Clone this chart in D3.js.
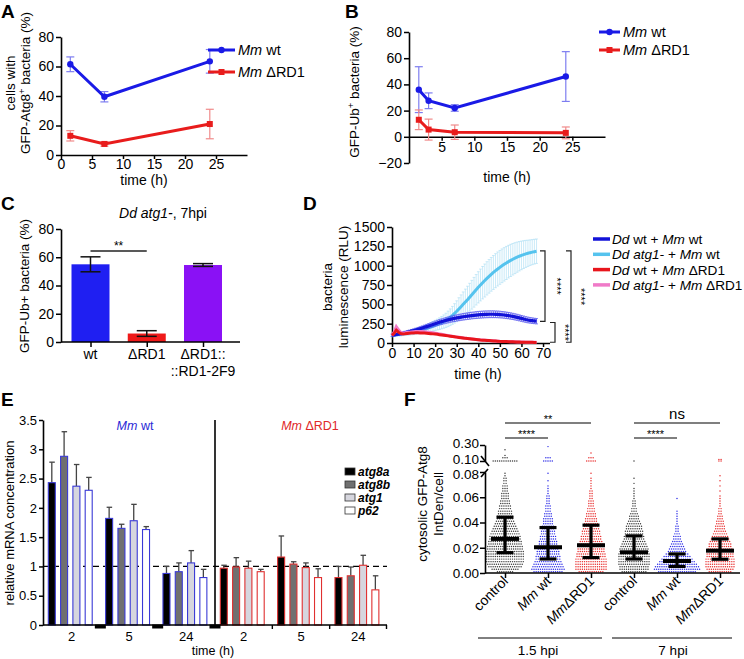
<!DOCTYPE html>
<html><head><meta charset="utf-8">
<script src="https://cdn.jsdelivr.net/npm/d3@7"></script>
<style>
body{margin:0;background:#fff;}
svg{font-family:"Liberation Sans",Arial,Helvetica,sans-serif;}
</style></head><body>
<svg id="fig" width="744" height="659"></svg>
<script>
// ---------- Panel A data ----------
const timeA = [1.5, 7, 24];
const wtA = [61.5, 39.5, 63.5];
const wtAErr = [5, 3.5, 8];
const rdA = [13, 7.5, 21];
const rdAErr = [3.5, 1.5, 10];
const ticksAx = [0, 5, 10, 15, 20, 25];
const ticksAy = [0, 20, 40, 60, 80];

// ---------- Panel B data ----------
const timeB = [1.5, 3, 7, 24];
const wtB = [36, 27.5, 22, 46];
const wtBErr = [17.5, 6, 2.5, 19];
const rdB = [13, 5.5, 3.5, 3];
const rdBErr = [7.5, 8, 5.5, 4.5];
const ticksBx = [5, 10, 15, 20, 25];
const ticksBy = [-20, 0, 20, 40, 60, 80];

// ---------- Panel C data ----------
const catC = ["wt", "ΔRD1", "ΔRD1::"];
const catC2 = ["", "", "::RD1-2F9"];
const valC = [55, 6, 54.5];
const errC = [5.3, 2, 1];
const colC = ["#1f1ff2", "#ef1a1a", "#8a11f5"];
const ticksCy = [0, 20, 40, 60, 80];

// ---------- Panel D data ----------
const timeD = [0,1,2,3,4,5,6,7,8,9,10,11,12,13,14,15,16,17,18,19,20,21,22,23,24,25,26,27,28,29,30,31,32,33,34,35,36,37,38,39,40,41,42,43,44,45,46,47,48,49,50,51,52,53,54,55,56,57,58,59,60,61,62,63,64,65,66,67];
const atgWt = [100,104,108,112,116,120,124,128,133,138,143,149,155,162,170,178,187,196,206,216,227,238,250,263,277,293,312,333,357,383,410,440,470,500,530,560,592,624,656,688,720,750,780,808,836,862,888,912,935,957,978,998,1017,1035,1052,1068,1083,1097,1110,1122,1133,1143,1152,1160,1168,1175,1181,1187];
const atgWtErr = [20,20,22,22,24,25,26,28,30,32,34,36,38,40,43,46,50,54,58,62,66,70,75,80,86,92,100,108,116,125,135,145,152,160,167,174,180,186,192,197,202,206,210,213,215,217,218,219,220,220,219,218,216,214,211,208,204,200,195,190,185,180,175,170,165,162,160,158];
const wtWt = [100,105,110,115,120,126,132,139,146,153,160,168,176,185,194,203,212,221,230,240,250,259,268,276,284,292,299,306,312,318,324,329,334,339,343,347,351,355,358,361,364,366,368,370,371,372,372,372,371,370,368,365,362,358,354,349,344,338,332,325,318,311,304,298,293,289,285,282];
const wtWtErr = [15,15,16,16,17,18,19,20,21,22,23,24,25,26,27,28,29,30,31,32,33,34,35,36,36,37,38,38,39,40,40,41,41,42,42,42,43,43,43,44,44,44,44,44,44,44,44,44,43,43,43,42,42,42,41,41,40,40,39,39,38,38,37,37,36,36,35,35];
const wtRd = [100,125,165,140,122,118,120,123,126,128,130,131,131,130,129,128,126,124,121,118,115,112,108,104,100,96,92,88,84,80,76,72,68,64,60,57,54,51,48,45,42,39,37,35,33,31,29,27,25,23,21,20,19,18,17,16,15,14,13,12,11,11,10,10,9,9,8,8];
const atgRd = [100,140,210,170,140,130,132,136,140,143,146,148,149,149,148,146,143,140,136,132,127,122,117,112,107,102,97,92,87,82,78,74,70,66,62,58,55,52,49,46,43,40,38,36,34,32,30,28,26,24,22,21,20,19,18,17,16,15,14,13,12,12,11,11,10,10,9,9];
const ticksDx = [0, 10, 20, 30, 40, 50, 60, 70];
const ticksDy = [0, 250, 500, 750, 1000, 1250, 1500];

// ---------- Panel E data ----------
const genes = ["atg8a", "atg8b", "atg1", "p62"];
const timesE = ["2", "5", "24"];
const wtE = [[2.43, 2.88, 2.37, 2.30], [1.82, 1.65, 1.78, 1.63], [0.88, 0.91, 1.06, 0.81]];
const wtETop = [[2.78, 3.30, 2.74, 2.52], [2.01, 1.72, 2.06, 1.68], [1.00, 1.06, 1.27, 0.95]];
const rdE = [[0.97, 0.99, 0.97, 0.91], [1.16, 1.04, 0.98, 0.81], [0.81, 0.84, 1.02, 0.60]];
const rdETop = [[1.02, 1.15, 1.09, 0.95], [1.52, 1.08, 1.06, 0.96], [1.00, 0.99, 1.19, 0.84]];
const ticksEy = [0, 0.5, 1, 1.5, 2, 2.5, 3, 3.5];

// ---------- Panel F data (dots per 0.002 bin, 0 to 0.08) ----------
const fGroups = ["control", "Mm wt", "MmΔRD1", "control ", "Mm wt ", "MmΔRD1 "];
const cnt_ctl15 = [8,13,16,17,18,18,18,18,18,17,17,16,16,15,15,14,13,12,11,10,9,8,8,7,7,6,6,5,5,4,4,4,3,3,3,2,2,2,1,1];
const cnt_wt15  = [14,16,15,14,13,12,12,11,11,10,10,9,9,8,8,7,7,6,6,5,5,5,4,4,3,3,3,2,2,2,2,1,1,1,1,0,1,0,0,1];
const cnt_rd15  = [12,15,15,15,15,15,14,14,13,13,12,12,11,10,10,9,9,8,7,7,6,6,5,5,4,4,3,3,3,2,2,2,2,1,1,1,1,1,0,1];
const cnt_ctl7  = [12,14,14,15,15,15,15,15,14,14,13,12,11,10,10,9,9,8,8,7,6,5,5,4,3,3,2,2,2,1,1,1,1,1,0,1,0,1,0,0];
const cnt_wt7   = [18,22,21,19,17,15,13,11,9,8,7,6,5,4,4,3,2,2,2,1,1,1,1,1,1,0,0,0,0,1,0,0,0,0,0,0,0,0,0,0];
const cnt_rd7   = [11,13,14,14,14,14,13,13,12,12,11,11,10,9,8,7,6,5,5,4,4,3,3,2,2,2,1,1,1,1,1,0,1,0,1,0,1,0,1,0];
const hi_ctl15 = [0.10,0.10,0.10,0.10,0.10,0.10,0.10,0.10,0.10,0.10,0.10,0.10,0.14,0.14,0.14,0.17,0.24];
const hi_wt15  = [0.10,0.10,0.10,0.10,0.10,0.14,0.14,0.14,0.28];
const hi_rd15  = [0.10,0.10,0.10,0.10,0.10,0.14,0.14,0.14,0.20];
const hi_ctl7  = [0.10];
const hi_wt7   = [];
const hi_rd7   = [0.10,0.10,0.12,0.12];
const fMed = [0.027, 0.0204, 0.022, 0.0164, 0.0095, 0.0177];
const fQ1  = [0.0161, 0.0111, 0.0122, 0.0111, 0.0052, 0.0109];
const fQ3  = [0.0442, 0.036, 0.0379, 0.0294, 0.0151, 0.027];
const ticksFlo = [0, 0.02, 0.04, 0.06, 0.08];
const ticksFhi = [0.10, 0.30];

// ================= drawing =================
const svg = d3.select("#fig");
const FONT = '"Liberation Sans",Arial,Helvetica,sans-serif';
const BLUE = "#1a1ae6", RED = "#e81c1c";

function styleAxis(g, fs) {
  g.attr("font-family", FONT);
  g.select(".domain").attr("stroke", "#000").attr("stroke-width", 1.6);
  g.selectAll(".tick line").attr("stroke", "#000").attr("stroke-width", 1.5);
  g.selectAll(".tick text").attr("font-size", fs).attr("fill", "#000");
}
function rich(parent, x, y, parts, o) {
  const size = o.size || 13;
  const t = parent.append("text").attr("x", x).attr("y", y).attr("font-size", size)
    .attr("text-anchor", o.anchor || "start").attr("fill", o.fill || "#000");
  if (o.weight) t.attr("font-weight", o.weight);
  if (o.rotate) t.attr("transform", `rotate(${o.rotate},${x},${y})`);
  let raised = false;
  parts.forEach(p => {
    const ts = t.append("tspan").text(p[0]);
    if (p[1] === "sup") { ts.attr("dy", -0.38 * size).attr("font-size", 0.7 * size); raised = true; }
    else {
      if (raised) { ts.attr("dy", 0.38 * size); raised = false; }
      if (p[1] === 1) ts.attr("font-style", "italic");
    }
  });
  return t;
}
function panelLabel(x, y, s) {
  svg.append("text").attr("x", x).attr("y", y).attr("font-size", 19).attr("font-weight", "bold").text(s);
}

// ---------------- Panel A ----------------
(function () {
  const g = svg.append("g");
  panelLabel(1, 18, "A");
  const x = d3.scaleLinear().domain([0, 30]).range([61, 247]);
  const y = d3.scaleLinear().domain([0, 80]).range([155, 37]);
  styleAxis(g.append("g").attr("transform", "translate(0,155)")
    .call(d3.axisBottom(x).tickValues(ticksAx).tickSize(4).tickSizeOuter(0).tickPadding(0)), 14);
  styleAxis(g.append("g").attr("transform", "translate(61,0)")
    .call(d3.axisLeft(y).tickValues(ticksAy).tickSize(5).tickSizeOuter(0).tickPadding(2)), 14);
  rich(g, 15, 83, [["cells with", 0]], { size: 13.5, anchor: "middle", rotate: -90 });
  rich(g, 30, 83, [["GFP-Atg8", 0], ["+", "sup"], [" bacteria (%)", 0]], { size: 13.5, anchor: "middle", rotate: -90 });
  rich(g, 144, 185, [["time (h)", 0]], { size: 14, anchor: "middle" });
  const series = [
    { v: wtA, e: wtAErr, c: BLUE, ec: "#7d7df0", sq: false },
    { v: rdA, e: rdAErr, c: RED, ec: "#f08a8a", sq: true }];
  series.forEach(s => {
    timeA.forEach((t, i) => {
      const cx = x(t);
      g.append("line").attr("x1", cx).attr("x2", cx).attr("y1", y(s.v[i] - s.e[i])).attr("y2", y(s.v[i] + s.e[i])).attr("stroke", s.ec).attr("stroke-width", 1.2);
      [s.v[i] - s.e[i], s.v[i] + s.e[i]].forEach(vv => g.append("line").attr("x1", cx - 4).attr("x2", cx + 4).attr("y1", y(vv)).attr("y2", y(vv)).attr("stroke", s.ec).attr("stroke-width", 1.2));
    });
    g.append("path").attr("d", d3.line().x((d, i) => x(timeA[i])).y(d => y(d))(s.v)).attr("fill", "none").attr("stroke", s.c).attr("stroke-width", 3);
    timeA.forEach((t, i) => {
      if (s.sq) g.append("rect").attr("x", x(t) - 3).attr("y", y(s.v[i]) - 3).attr("width", 6).attr("height", 6).attr("fill", s.c);
      else g.append("circle").attr("cx", x(t)).attr("cy", y(s.v[i])).attr("r", 3.2).attr("fill", s.c);
    });
  });
  [[50, BLUE, [["Mm", 1], [" wt", 0]], false], [72, RED, [["Mm", 1], [" ΔRD1", 0]], true]].forEach(l => {
    g.append("line").attr("x1", 208).attr("x2", 235).attr("y1", l[0]).attr("y2", l[0]).attr("stroke", l[1]).attr("stroke-width", 3);
    if (l[3]) g.append("rect").attr("x", 218.5).attr("y", l[0] - 3).attr("width", 6).attr("height", 6).attr("fill", l[1]);
    else g.append("circle").attr("cx", 221.5).attr("cy", l[0]).attr("r", 3.2).attr("fill", l[1]);
    rich(g, 238, l[0] + 5, l[2], { size: 14.5 });
  });
})();

// ---------------- Panel B ----------------
(function () {
  const g = svg.append("g");
  panelLabel(345, 18, "B");
  const x = d3.scaleLinear().domain([0, 30]).range([409, 605]);
  const y = d3.scaleLinear().domain([-20, 80]).range([163, 32]);
  styleAxis(g.append("g").attr("transform", `translate(0,${y(0)})`)
    .call(d3.axisBottom(x).tickValues(ticksBx).tickSize(4).tickSizeOuter(0).tickPadding(1)), 14);
  styleAxis(g.append("g").attr("transform", "translate(409,0)")
    .call(d3.axisLeft(y).tickValues(ticksBy).tickSize(5).tickSizeOuter(0).tickPadding(2)), 14);
  rich(g, 359, 92, [["GFP-Ub", 0], ["+", "sup"], [" bacteria (%)", 0]], { size: 13.5, anchor: "middle", rotate: -90 });
  rich(g, 507, 182, [["time (h)", 0]], { size: 14, anchor: "middle" });
  const series = [
    { v: wtB, e: wtBErr, c: BLUE, ec: "#7d7df0", sq: false },
    { v: rdB, e: rdBErr, c: RED, ec: "#f08a8a", sq: true }];
  series.forEach(s => {
    timeB.forEach((t, i) => {
      const cx = x(t);
      g.append("line").attr("x1", cx).attr("x2", cx).attr("y1", y(s.v[i] - s.e[i])).attr("y2", y(s.v[i] + s.e[i])).attr("stroke", s.ec).attr("stroke-width", 1.2);
      [s.v[i] - s.e[i], s.v[i] + s.e[i]].forEach(vv => g.append("line").attr("x1", cx - 4).attr("x2", cx + 4).attr("y1", y(vv)).attr("y2", y(vv)).attr("stroke", s.ec).attr("stroke-width", 1.2));
    });
    g.append("path").attr("d", d3.line().x((d, i) => x(timeB[i])).y(d => y(d))(s.v)).attr("fill", "none").attr("stroke", s.c).attr("stroke-width", 3);
    timeB.forEach((t, i) => {
      if (s.sq) g.append("rect").attr("x", x(t) - 3).attr("y", y(s.v[i]) - 3).attr("width", 6).attr("height", 6).attr("fill", s.c);
      else g.append("circle").attr("cx", x(t)).attr("cy", y(s.v[i])).attr("r", 3.2).attr("fill", s.c);
    });
  });
  [[32, BLUE, [["Mm", 1], [" wt", 0]], false], [50, RED, [["Mm", 1], [" ΔRD1", 0]], true]].forEach(l => {
    g.append("line").attr("x1", 599).attr("x2", 620).attr("y1", l[0]).attr("y2", l[0]).attr("stroke", l[1]).attr("stroke-width", 3);
    if (l[3]) g.append("rect").attr("x", 606.5).attr("y", l[0] - 3).attr("width", 6).attr("height", 6).attr("fill", l[1]);
    else g.append("circle").attr("cx", 609.5).attr("cy", l[0]).attr("r", 3.2).attr("fill", l[1]);
    rich(g, 623, l[0] + 5, l[2], { size: 14.5 });
  });
})();

// ---------------- Panel C ----------------
(function () {
  const g = svg.append("g");
  panelLabel(1, 210, "C");
  const x = d3.scalePoint().domain(catC).range([90.5, 203]);
  const y = d3.scaleLinear().domain([0, 80]).range([342, 229]);
  const bw = 38;
  catC.forEach((c, i) => {
    g.append("rect").attr("x", x(c) - bw / 2).attr("y", y(valC[i])).attr("width", bw).attr("height", y(0) - y(valC[i])).attr("fill", colC[i]);
    const cx = x(c);
    g.append("line").attr("x1", cx).attr("x2", cx).attr("y1", y(valC[i] - errC[i])).attr("y2", y(valC[i] + errC[i])).attr("stroke", "#111").attr("stroke-width", 1.5);
    [valC[i] - errC[i], valC[i] + errC[i]].forEach(vv => g.append("line").attr("x1", cx - 10).attr("x2", cx + 10).attr("y1", y(vv)).attr("y2", y(vv)).attr("stroke", "#111").attr("stroke-width", 1.5));
  });
  const ax = g.append("g").attr("transform", "translate(0,342)")
    .call(d3.axisBottom(x).tickSize(5).tickPadding(2).tickFormat(() => ""));
  styleAxis(ax, 14);
  ax.select(".domain").attr("d", "M61,0H240");
  catC.forEach((c, i) => {
    g.append("text").attr("x", x(c)).attr("y", 359).attr("text-anchor", "middle").attr("font-size", 14).text(c);
    if (catC2[i]) g.append("text").attr("x", x(c)).attr("y", 376).attr("text-anchor", "middle").attr("font-size", 14).text(catC2[i]);
  });
  styleAxis(g.append("g").attr("transform", "translate(61,0)")
    .call(d3.axisLeft(y).tickValues(ticksCy).tickSize(5).tickSizeOuter(0).tickPadding(2)), 14);
  rich(g, 29, 286, [["GFP-Ub+ bacteria (%)", 0]], { size: 13.5, anchor: "middle", rotate: -90 });
  rich(g, 163, 218, [["Dd atg1-", 1], [", 7hpi", 0]], { size: 14, anchor: "middle" });
  g.append("line").attr("x1", x(catC[0])).attr("x2", x(catC[1])).attr("y1", 251).attr("y2", 251).attr("stroke", "#222").attr("stroke-width", 1.3);
  g.append("text").attr("x", (x(catC[0]) + x(catC[1])) / 2).attr("y", 250).attr("text-anchor", "middle").attr("font-size", 12).text("**");
})();

// ---------------- Panel D ----------------
(function () {
  const g = svg.append("g");
  panelLabel(303, 210, "D");
  const x = d3.scaleLinear().domain([0, 73]).range([392, 549.5]);
  const y = d3.scaleLinear().domain([0, 1500]).range([343, 227]);
  styleAxis(g.append("g").attr("transform", "translate(0,343)")
    .call(d3.axisBottom(x).tickValues(ticksDx).tickSize(4).tickSizeOuter(0).tickPadding(1)), 14);
  styleAxis(g.append("g").attr("transform", "translate(392,0)")
    .call(d3.axisLeft(y).tickValues(ticksDy).tickSize(5).tickSizeOuter(0).tickPadding(2).tickFormat(d3.format("d"))), 14);
  rich(g, 332, 287, [["bacteria", 0]], { size: 13.5, anchor: "middle", rotate: -90 });
  rich(g, 348, 287, [["luminescence (RLU)", 0]], { size: 13.5, anchor: "middle", rotate: -90 });
  rich(g, 478, 379, [["time (h)", 0]], { size: 14, anchor: "middle" });
  const errBars = (vals, errs, col, w, sw) => {
    timeD.forEach((t, i) => {
      const cx = x(t), lo = y(vals[i] - errs[i]), hi = y(vals[i] + errs[i]);
      g.append("line").attr("x1", cx).attr("x2", cx).attr("y1", lo).attr("y2", hi).attr("stroke", col).attr("stroke-width", sw);
      [lo, hi].forEach(yy => g.append("line").attr("x1", cx - w).attr("x2", cx + w).attr("y1", yy).attr("y2", yy).attr("stroke", col).attr("stroke-width", sw));
    });
  };
  const line = vals => d3.line().x((d, i) => x(timeD[i])).y(d => y(d))(vals);
  errBars(atgWt, atgWtErr, "#a6dcf4", 1.4, 0.6);
  g.append("path").attr("d", line(atgWt)).attr("fill", "none").attr("stroke", "#55c3ee").attr("stroke-width", 3);
  errBars(wtWt, wtWtErr, "#4f4fee", 1.4, 0.7);
  g.append("path").attr("d", line(wtWt)).attr("fill", "none").attr("stroke", "#1212d8").attr("stroke-width", 3.2);
  g.append("path").attr("d", line(atgRd)).attr("fill", "none").attr("stroke", "#f07ac8").attr("stroke-width", 3);
  g.append("path").attr("d", line(wtRd)).attr("fill", "none").attr("stroke", "#e8151c").attr("stroke-width", 3);
  const br = (bx, y1, y2, tx, ty) => {
    g.append("path").attr("d", `M${bx - 5},${y1}H${bx}V${y2}H${bx - 5}`).attr("fill", "none").attr("stroke", "#222").attr("stroke-width", 1.2);
    g.append("text").attr("x", tx).attr("y", ty).attr("font-size", 11).attr("text-anchor", "middle")
      .attr("transform", `rotate(90,${tx},${ty})`).text("****");
  };
  br(545, y(1190), y(280), 553, y(735));
  br(555, y(265), y(10), 561, y(135));
  br(571, y(1190), y(10), 577, y(600));
  const leg = [
    ["#1212d8", [["Dd", 1], [" wt + ", 0], ["Mm", 1], [" wt", 0]]],
    ["#55c3ee", [["Dd atg1-", 1], [" + ", 0], ["Mm", 1], [" wt", 0]]],
    ["#e8151c", [["Dd", 1], [" wt + ", 0], ["Mm", 1], [" ΔRD1", 0]]],
    ["#f07ac8", [["Dd atg1-", 1], [" + ", 0], ["Mm", 1], [" ΔRD1", 0]]]];
  leg.forEach((l, i) => {
    const ly = 239 + i * 15.3;
    g.append("line").attr("x1", 593).attr("x2", 610).attr("y1", ly).attr("y2", ly).attr("stroke", l[0]).attr("stroke-width", 3.5);
    rich(g, 612, ly + 5, l[1], { size: 13.6 });
  });
})();

// ---------------- Panel E ----------------
(function () {
  const g = svg.append("g");
  panelLabel(1, 406, "E");
  const groups = [];
  ["wt", "rd"].forEach(s => timesE.forEach(t => groups.push(s + t)));
  const x = d3.scaleBand().domain(groups).range([43, 387]);
  const xi = d3.scaleBand().domain(genes).range([5.3, 49.2]).paddingInner(0.43);
  const y = d3.scaleLinear().domain([0, 3.5]).range([625, 420]);
  const fills = ["#000000", "#707070", "#d6d6de", "#ffffff"];
  g.append("line").attr("x1", 43).attr("x2", 387).attr("y1", y(1)).attr("y2", y(1)).attr("stroke", "#000").attr("stroke-width", 1.2).attr("stroke-dasharray", "6,4");
  [["wt", wtE, wtETop, "#3a3ad6"], ["rd", rdE, rdETop, "#e03030"]].forEach(sd => {
    timesE.forEach((t, ti) => {
      genes.forEach((gn, gi) => {
        const bx = x(sd[0] + t) + xi(gn), v = sd[1][ti][gi], top = sd[2][ti][gi];
        const cx = bx + xi.bandwidth() / 2;
        g.append("line").attr("x1", cx).attr("x2", cx).attr("y1", y(v)).attr("y2", y(top)).attr("stroke", "#444").attr("stroke-width", 1.3);
        g.append("line").attr("x1", cx - 2.5).attr("x2", cx + 3).attr("y1", y(top)).attr("y2", y(top)).attr("stroke", "#444").attr("stroke-width", 1.3);
        g.append("rect").attr("x", bx).attr("y", y(v)).attr("width", xi.bandwidth()).attr("height", y(0) - y(v))
          .attr("fill", fills[gi]).attr("stroke", sd[3]).attr("stroke-width", 1.1);
      });
    });
  });
  g.append("line").attr("x1", x("rd2")).attr("x2", x("rd2")).attr("y1", 420).attr("y2", 625).attr("stroke", "#000").attr("stroke-width", 1.6);
  g.append("line").attr("x1", 43).attr("x2", 387).attr("y1", 625).attr("y2", 625).attr("stroke", "#000").attr("stroke-width", 1.6);
  ["wt5", "wt24", "rd2"].forEach(k => g.append("rect").attr("x", x(k) - 5.5).attr("y", 624.5).attr("width", 11).attr("height", 4).attr("fill", "#000"));
  ["rd5", "rd24"].forEach(k => g.append("line").attr("x1", x(k)).attr("x2", x(k)).attr("y1", 625).attr("y2", 629).attr("stroke", "#000").attr("stroke-width", 1.4));
  g.append("line").attr("x1", 386.5).attr("x2", 386.5).attr("y1", 625).attr("y2", 629).attr("stroke", "#000").attr("stroke-width", 1.4);
  groups.forEach((k, i) => g.append("text").attr("x", x(k) + x.bandwidth() / 2).attr("y", 641).attr("text-anchor", "middle").attr("font-size", 13).text(timesE[i % 3]));
  styleAxis(g.append("g").attr("transform", "translate(43,0)")
    .call(d3.axisLeft(y).tickValues(ticksEy).tickSize(4).tickSizeOuter(0).tickPadding(2).tickFormat(d => String(d))), 13);
  rich(g, 14, 523, [["relative mRNA concentration", 0]], { size: 13, anchor: "middle", rotate: -90 });
  rich(g, 213, 655, [["time (h)", 0]], { size: 12.5, anchor: "middle" });
  rich(g, 135, 430, [["Mm", 1], [" wt", 0]], { size: 12.5, anchor: "middle", fill: "#2a2ad6" });
  rich(g, 310, 430, [["Mm", 1], [" ΔRD1", 0]], { size: 12.5, anchor: "middle", fill: "#e02828" });
  genes.forEach((gn, i) => {
    const ly = 472 + i * 13;
    g.append("rect").attr("x", 345).attr("y", ly - 4).attr("width", 10).attr("height", 7).attr("fill", fills[i]).attr("stroke", "#333").attr("stroke-width", 0.8);
    g.append("text").attr("x", 358).attr("y", ly + 4).attr("font-size", 12).attr("font-weight", "bold").attr("font-style", "italic").text(gn);
  });
})();

// ---------------- Panel F ----------------
(function () {
  const g = svg.append("g");
  panelLabel(404, 406, "F");
  const axX = 485;
  const x = d3.scalePoint().domain(fGroups).range([505, 720]);
  const yLo = d3.scaleLinear().domain([0, 0.08]).range([573, 472]);
  const yHi = d3.scaleLinear().domain([0.10, 0.30]).range([461, 445]);
  const counts = [cnt_ctl15, cnt_wt15, cnt_rd15, cnt_ctl7, cnt_wt7, cnt_rd7];
  const highs = [hi_ctl15, hi_wt15, hi_rd15, hi_ctl7, hi_wt7, hi_rd7];
  const cols = ["#3a3a3a", "#2a2ae6", "#e82a2a", "#3a3a3a", "#2a2ae6", "#e82a2a"];
  const sp = 2.15;
  fGroups.forEach((gr, gi) => {
    const cx = x(gr);
    counts[gi].forEach((n, bi) => {
      const yy = yLo(0.001 + 0.002 * bi);
      for (let j = 0; j < n; j++) {
        g.append("circle").attr("cx", cx + (j - (n - 1) / 2) * sp).attr("cy", yy).attr("r", 0.72).attr("fill", cols[gi]);
      }
    });
    const hv = d3.rollups(highs[gi], v => v.length, d => d);
    hv.forEach(([val, n]) => {
      for (let j = 0; j < n; j++) {
        g.append("circle").attr("cx", cx + (j - (n - 1) / 2) * sp).attr("cy", yHi(val)).attr("r", 0.72).attr("fill", cols[gi]);
      }
    });
    g.append("line").attr("x1", cx).attr("x2", cx).attr("y1", yLo(fQ1[gi])).attr("y2", yLo(fQ3[gi])).attr("stroke", "#000").attr("stroke-width", 3.2);
    g.append("line").attr("x1", cx - 14).attr("x2", cx + 14).attr("y1", yLo(fMed[gi])).attr("y2", yLo(fMed[gi])).attr("stroke", "#000").attr("stroke-width", 4);
    [fQ1[gi], fQ3[gi]].forEach(q => g.append("line").attr("x1", cx - 8.5).attr("x2", cx + 8.5).attr("y1", yLo(q)).attr("y2", yLo(q)).attr("stroke", "#000").attr("stroke-width", 3.2));
  });
  const xa = g.append("g").attr("transform", "translate(0,573)").call(d3.axisBottom(x).tickSize(5).tickFormat(() => ""));
  styleAxis(xa, 12);
  xa.select(".domain").attr("d", `M${axX},0H740`);
  const ylo = g.append("g").attr("transform", `translate(${axX},0)`)
    .call(d3.axisLeft(yLo).tickValues(ticksFlo).tickSize(5).tickSizeOuter(0).tickPadding(1).tickFormat(d3.format(".2f")));
  styleAxis(ylo, 13.5);
  ylo.selectAll(".tick text").filter(d => d === 0.08).attr("dy", "0.5em");
  const yhi = g.append("g").attr("transform", `translate(${axX},0)`)
    .call(d3.axisLeft(yHi).tickValues(ticksFhi).tickSize(5).tickSizeOuter(0).tickPadding(1).tickFormat(d3.format(".2f")));
  styleAxis(yhi, 13.5);
  yhi.selectAll(".tick text").filter(d => d === 0.10).attr("dy", "0.2em");
  yhi.selectAll(".tick text").filter(d => d === 0.30).attr("dy", "0.2em");
  g.append("line").attr("x1", axX - 4).attr("x2", axX + 4).attr("y1", 456).attr("y2", 466).attr("stroke", "#000").attr("stroke-width", 1.6);
  g.append("line").attr("x1", axX - 4).attr("x2", axX + 3).attr("y1", 477).attr("y2", 469).attr("stroke", "#000").attr("stroke-width", 1.6);
  rich(g, 427, 504, [["cytosolic GFP-Atg8", 0]], { size: 13.5, anchor: "middle", rotate: -90 });
  rich(g, 443, 504, [["IntDen/cell", 0]], { size: 13.5, anchor: "middle", rotate: -90 });
  const labParts = [[["control", 0]], [["Mm", 1], [" wt", 0]], [["Mm", 1], ["ΔRD1", 0]]];
  fGroups.forEach((gr, gi) => {
    rich(g, x(gr) + 4, 582, labParts[gi % 3], { size: 14, anchor: "end", rotate: -45 });
  });
  g.append("line").attr("x1", 478).attr("x2", 602).attr("y1", 638).attr("y2", 638).attr("stroke", "#000").attr("stroke-width", 1);
  g.append("line").attr("x1", 612).attr("x2", 732).attr("y1", 638).attr("y2", 638).attr("stroke", "#000").attr("stroke-width", 1);
  g.append("text").attr("x", 538).attr("y", 655).attr("text-anchor", "middle").attr("font-size", 13.5).text("1.5 hpi");
  g.append("text").attr("x", 673).attr("y", 655).attr("text-anchor", "middle").attr("font-size", 13.5).text("7 hpi");
  const sig = (a, b, yy, txt, fs) => {
    g.append("line").attr("x1", x(fGroups[a])).attr("x2", x(fGroups[b])).attr("y1", yy).attr("y2", yy).attr("stroke", "#555").attr("stroke-width", 1.4);
    g.append("text").attr("x", (x(fGroups[a]) + x(fGroups[b])) / 2).attr("y", yy - (fs > 12 ? 4 : 0)).attr("text-anchor", "middle").attr("font-size", fs).text(txt);
  };
  sig(0, 2, 423, "**", 11);
  sig(0, 1, 438, "****", 11);
  sig(3, 5, 423, "ns", 15);
  sig(3, 4, 438, "****", 11);
})();
</script></body></html>
